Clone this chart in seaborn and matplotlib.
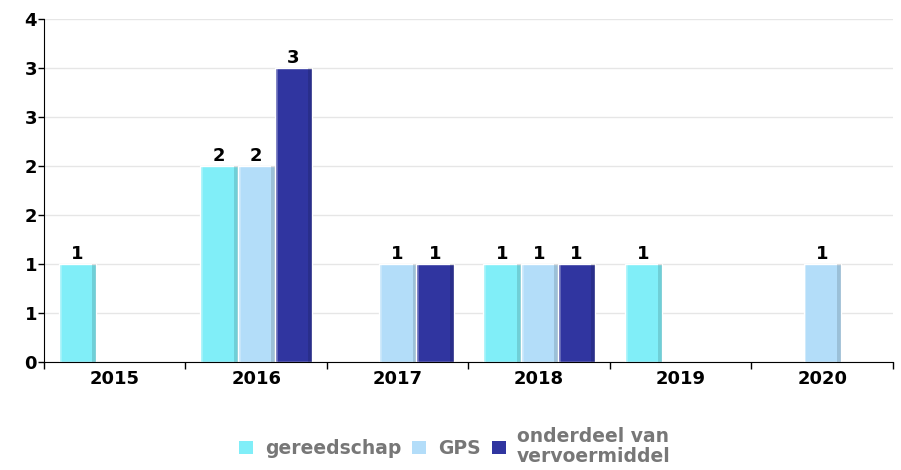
import numpy as np
import pandas as pd
import matplotlib.pyplot as plt
import seaborn as sns
from matplotlib.patches import Patch

# =========================
# Data
# =========================
years = ["2015", "2016", "2017", "2018", "2019", "2020"]
series = ["gereedschap", "GPS", "onderdeel van\nvervoermiddel"]
gereedschap = [1, 2, 0, 1, 1, 0]
gps = [0, 2, 1, 1, 0, 1]
onderdeel = [0, 3, 1, 1, 0, 0]
colors = ["#80eef8", "#b3ddf9", "#3035a0"]

rows = []
for name, vals in zip(series, [gereedschap, gps, onderdeel]):
    for y, v in zip(years, vals):
        if v > 0:
            rows.append({"jaar": y, "soort": name, "aantal": v})
df = pd.DataFrame(rows)

# =========================
# Plot
# =========================
sns.set_style("white", {"xtick.bottom": True, "ytick.left": True,
                        "text.color": "black", "xtick.color": "black",
                        "ytick.color": "black"})
plt.rcParams["font.family"] = ["DejaVu Sans"]

fig = plt.figure(figsize=(9.01, 4.70), dpi=100)
ax = fig.add_axes([0.0488, 0.2298, 0.9422, 0.7298])

sns.barplot(data=df, x="jaar", y="aantal", hue="soort", order=years,
            hue_order=series, palette=colors, width=0.79, gap=0,
            saturation=1, ax=ax, legend=False)

# light left edge, darker right edge on each bar
for p in list(ax.patches):
    x0, w, h = p.get_x(), p.get_width(), p.get_height()
    if h > 0:
        ax.bar(x0 + w * 0.9, h, width=w * 0.1, align="edge",
               color="black", alpha=0.13, linewidth=0, zorder=3)
        ax.bar(x0, h, width=w * 0.08, align="edge",
               color="white", alpha=0.25, linewidth=0, zorder=3)

for cont in ax.containers[:3]:
    ax.bar_label(cont, fmt="%d", fontsize=13, fontweight="bold", padding=1,
                 color="black")

# y axis: 0..3.5 with rounded labels
yt = np.arange(0, 3.51, 0.5)
ax.set_ylim(0, 3.5)
ax.set_yticks(yt)
ax.set_yticklabels([str(int(v + 0.5)) for v in yt], fontsize=13, fontweight="bold")
ax.yaxis.grid(True, color="#e6e6e6", linewidth=1)
ax.set_axisbelow(True)

ax.set_xlim(-0.5, 5.5)
ax.set_xticks(range(len(years)))
ax.set_xticklabels(years, fontsize=13, fontweight="bold")
ax.set_xticks(np.arange(-0.5, 5.6, 1), minor=True)
ax.tick_params(axis="x", which="major", length=0, pad=6)
ax.tick_params(axis="x", which="minor", length=5, width=1, color="black",
               direction="out", bottom=True)
ax.tick_params(axis="y", length=4, width=1, color="black", direction="out",
               pad=1, left=True)

ax.set_xlabel("")
ax.set_ylabel("")
sns.despine(ax=ax)
ax.spines["left"].set_color("black")
ax.spines["bottom"].set_color("black")

handles = [Patch(facecolor=c, edgecolor="none") for c in colors]
leg = fig.legend(handles, series, loc="center", bbox_to_anchor=(0.505, 0.05),
                 ncol=3, frameon=False, handlelength=0.75, handleheight=0.75,
                 handletextpad=0.6, columnspacing=0.6,
                 prop={"weight": "bold", "size": 13.5})
for t in leg.get_texts():
    t.set_color("#777777")
    t.set_linespacing(1.0)

plt.savefig("out.png", dpi=100)
